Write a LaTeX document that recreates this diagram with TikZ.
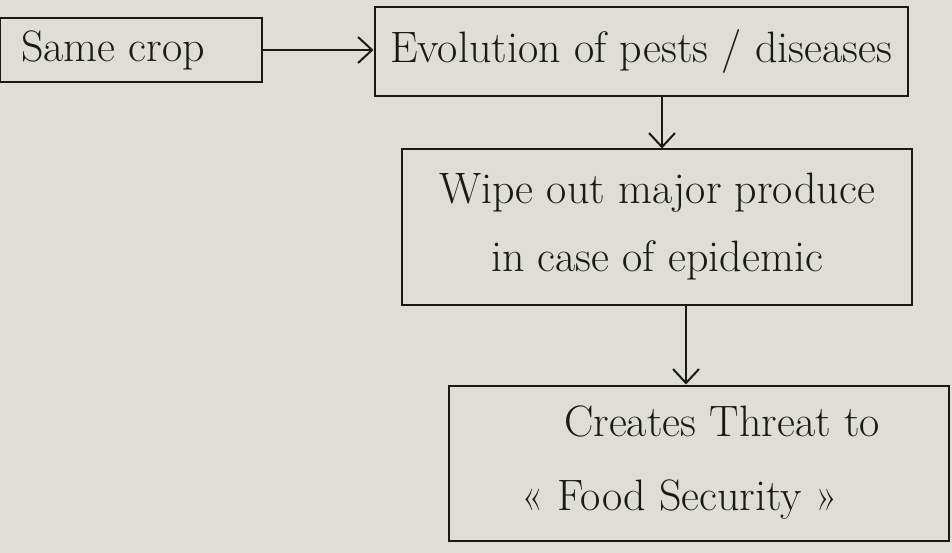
\documentclass[tikz,border=0pt]{standalone}
\usetikzlibrary{arrows.meta}
\definecolor{paper}{RGB}{222,222,215}
\definecolor{ink}{RGB}{25,25,22}
\begin{document}
\begin{tikzpicture}[x=1pt,y=-1pt,
  box/.style={draw=ink,line width=2pt,inner sep=0pt,text=ink,font=\fontsize{44}{68}\selectfont,align=center},
  conn/.style={draw=ink,line width=2pt,-{Straight Barb[length=14pt,width=26pt,line width=2pt]}}]
\fill[paper] (0,0) rectangle (952,553);
\useasboundingbox (0,0) rectangle (952,553);
\node[box,minimum width=262,minimum height=64] (b1) at (131,50) {Same crop\hspace*{36pt}};
\node[box,minimum width=533,minimum height=89] (b2) at (641,52) {Evolution of pests / diseases};
\node[box,minimum width=510,minimum height=155] (b3) at (657,227) {Wipe out major produce\\in case of epidemic};
\node[box,minimum width=500,minimum height=155,font=\fontsize{44}{74}\selectfont] (b4) at (699,463) {\hspace*{46pt}Creates Threat to\\« Food Security »\hspace*{38pt}};
\coordinate (c1) at (662,0);
\coordinate (c2) at (686,0);
\draw[conn] (b1.east) -- (b1.east -| b2.west);
\draw[conn] (b2.south -| c1) -- (b3.north -| c1);
\draw[conn] (b3.south -| c2) -- (b4.north -| c2);
\end{tikzpicture}
\end{document}
